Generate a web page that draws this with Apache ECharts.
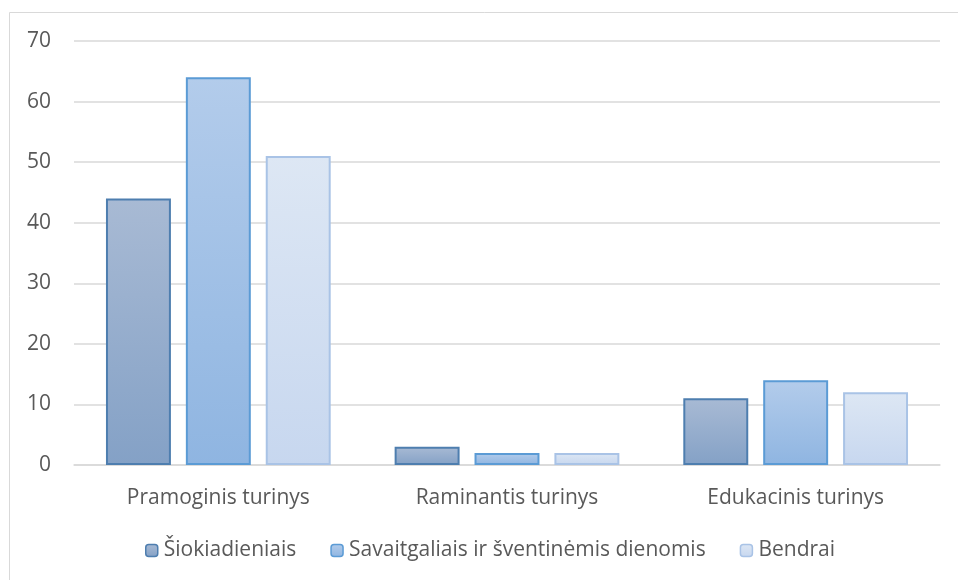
<!DOCTYPE html>
<html><head><meta charset="utf-8">
<script src="https://cdn.jsdelivr.net/npm/echarts@6/dist/echarts.min.js"></script>
<style>html,body{margin:0;padding:0;background:#fff}#c{width:958px;height:580px}</style>
</head><body><div id="c"></div>
<script>
const categories = ['Pramoginis turinys', 'Raminantis turinys', 'Edukacinis turinys'];
const seriesNames = ['Šiokiadieniais', 'Savaitgaliais ir šventinėmis dienomis', 'Bendrai'];
const weekdays = [44, 3, 11];
const weekends = [64, 2, 14];
const overall = [51, 2, 12];
const yTicks = [0, 10, 20, 30, 40, 50, 60, 70];

const font = '"Open Sans", sans-serif';
function grad(top, bottom) {
  return new echarts.graphic.LinearGradient(0, 0, 0, 1, [{offset: 0, color: top}, {offset: 1, color: bottom}]);
}
const styles = [
  {fill: grad('#a8bad4', '#84a1c6'), border: '#4e7eaf'},
  {fill: grad('#b3cceb', '#8fb5e1'), border: '#5b9bd5'},
  {fill: grad('#dde7f4', '#c7d7ef'), border: '#a9c3e6'}
];
const dataSets = [weekdays, weekends, overall];
const chart = echarts.init(document.getElementById('c'), null, {renderer: 'canvas'});
chart.setOption({
  animation: false,
  backgroundColor: '#fff',
  textStyle: {fontFamily: font},
  graphic: [{type: 'rect', shape: {x: 9.5, y: 12.5, width: 1000, height: 600}, style: {fill: 'none', stroke: '#d9d9d9', lineWidth: 1}, silent: true, z: -1}],
  grid: {left: 74, right: 18, top: 41, bottom: 115, containLabel: false},
  legend: {
    bottom: 14, left: 140,
    itemWidth: 12, itemHeight: 12, itemGap: 34,
    textStyle: {color: '#595959', fontSize: 21, fontFamily: font, padding: [0, 0, 0, 1]},
    data: seriesNames.map((n, i) => ({name: n, itemStyle: {color: styles[i].fill, borderColor: styles[i].border, borderWidth: 1.5}}))
  },
  xAxis: {
    type: 'category', data: categories,
    axisLine: {lineStyle: {color: '#d9d9d9', width: 1.5}},
    axisTick: {show: false},
    axisLabel: {color: '#595959', fontSize: 21, margin: 23, fontFamily: font}
  },
  yAxis: {
    type: 'value', min: 0, max: 70, interval: 10,
    axisLine: {show: false}, axisTick: {show: false},
    splitLine: {lineStyle: {color: '#d9d9d9', width: 1.5}},
    axisLabel: {color: '#595959', fontSize: 21, margin: 23, fontFamily: font,
      formatter: v => yTicks.includes(v) ? String(v) : ''}
  },
  series: seriesNames.map((n, i) => ({
    name: n, type: 'bar', data: dataSets[i],
    barWidth: '22.5%', barGap: '23%',
    itemStyle: {color: styles[i].fill, borderColor: styles[i].border, borderWidth: 2}
  }))
});
</script></body></html>
